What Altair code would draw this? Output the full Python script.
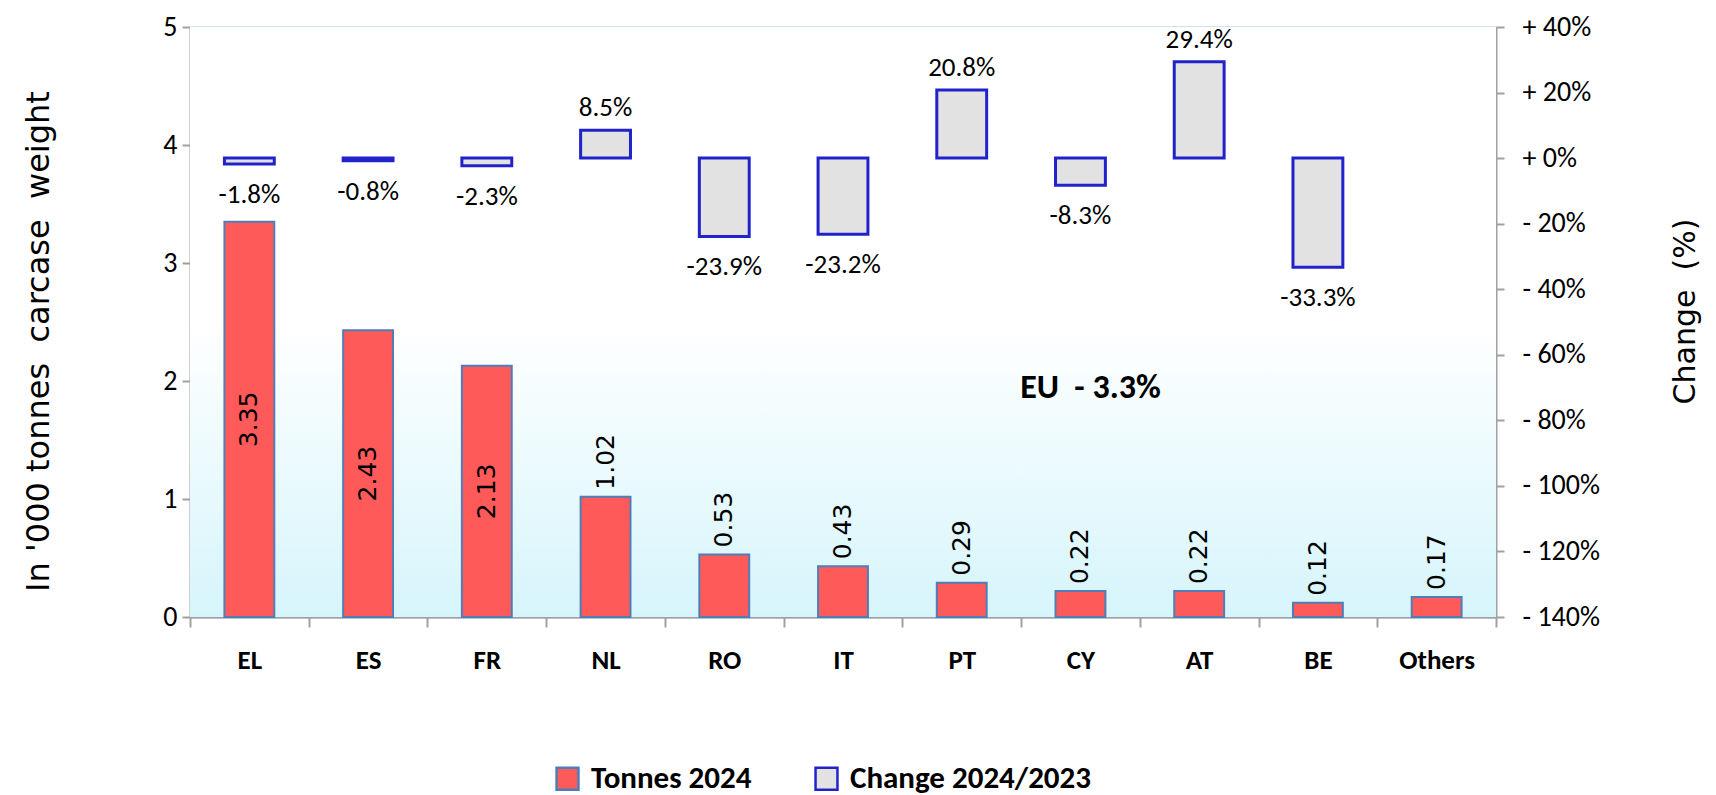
import altair as alt
import pandas as pd

countries = ["EL", "ES", "FR", "NL", "RO", "IT", "PT", "CY", "AT", "BE", "Others"]
tonnes = [3.35, 2.43, 2.13, 1.02, 0.53, 0.43, 0.29, 0.22, 0.22, 0.12, 0.17]
change = [-1.8, -0.8, -2.3, 8.5, -23.9, -23.2, 20.8, -8.3, 29.4, -33.3, None]
series = ["Tonnes 2024", "Change 2024/2023"]
eu_label = ["EU\u00a0 - 3.3%"]
left_ticks = [0, 1, 2, 3, 4, 5]
right_ticks = [-140, -120, -100, -80, -60, -40, -20, 0, 20, 40]

NARROW = "Carlito, DejaVu Sans Condensed, Lato"
VERD = "DejaVu Sans, Verdana"

df = pd.DataFrame({"country": countries, "tonnes": tonnes, "change": change})
df["tonnes_label"] = [f"{v:.2f}" for v in tonnes]
df["change_label"] = [f"{v:.1f}%" if v is not None else "" for v in change]
df["s_t"] = series[0]
df["s_c"] = series[1]

legend = alt.Legend(
    title=None, orient="none", legendX=362, legendY=736, direction="horizontal",
    labelFont=NARROW, labelFontSize=31, labelFontWeight="bold", labelColor="black",
    symbolType="square", symbolSize=480, symbolStrokeWidth=2.5, labelOffset=8,
    columnPadding=58, labelLimit=500,
)
col_scale = alt.Scale(domain=series, range=["#ff5a5a", "#e2e2e2"])
str_scale = alt.Scale(domain=series, range=["#4f7db8", "#2222cc"])

x_enc = alt.X(
    "country:N", sort=countries,
    scale=alt.Scale(paddingInner=0, paddingOuter=0),
    axis=alt.Axis(
        title=None, labelAngle=0, tickBand="extent", tickSize=10, labelPadding=20,
        labelFont=NARROW, labelFontSize=27, labelFontWeight="bold", labelColor="black",
        domainColor="#a0a0a0", domainWidth=2, tickColor="#a0a0a0", tickWidth=2,
    ),
)

left_axis = alt.Axis(
    title="In '000 tonnes\u00a0 carcase\u00a0 weight", values=left_ticks, grid=False,
    tickSize=8, tickColor="#a0a0a0", tickWidth=2, domainColor="#a0a0a0", domainWidth=2,
    labelFont=NARROW, labelFontSize=28, labelColor="black", labelPadding=5, labelFlush=False,
    titleFont=VERD, titleFontSize=32, titleFontWeight="normal", titleColor="black",
    titleX=-152, titleY=314, titleAngle=270, titleAlign="center", titleBaseline="middle",
)
right_axis = alt.Axis(
    orient="right", title="Change\u00a0 (%)", values=right_ticks, grid=True,
    gridColor="#3d89cc", gridWidth=1.5,
    tickSize=8, tickColor="#a0a0a0", tickWidth=2, domainColor="#a0a0a0", domainWidth=2,
    labelFont=NARROW, labelFontSize=28, labelColor="black", labelPadding=18, labelFlush=False,
    labelExpr="datum.value >= 0 ? '+ ' + datum.value + '%' : '- ' + abs(datum.value) + '%'",
    titleFont=VERD, titleFontSize=30, titleFontWeight="normal", titleColor="black",
    titleX=189, titleY=284, titleAngle=270, titleAlign="center", titleBaseline="middle",
)
left_scale = alt.Scale(domain=[0, 5], nice=False)
right_scale = alt.Scale(domain=[-140, 40], nice=False)

base = alt.Chart(df)

bg_grad = alt.Gradient(
    gradient="linear", x1=0, y1=0, x2=0, y2=1,
    stops=[
        alt.GradientStop(offset=0, color="#ffffff"),
        alt.GradientStop(offset=0.5, color="#ffffff"),
        alt.GradientStop(offset=1, color="#d6f5fb"),
    ],
)
background = alt.Chart(pd.DataFrame({"k": [0]})).mark_rect(color=bg_grad).encode(
    x=alt.value(0), x2=alt.value("width"), y=alt.value(0), y2=alt.value("height"),
)

bars_t = base.mark_bar(width={"band": 0.42}, strokeWidth=2).encode(
    x=x_enc,
    y=alt.Y("tonnes:Q", scale=left_scale, axis=left_axis),
    color=alt.Color("s_t:N", scale=col_scale, legend=legend),
    stroke=alt.Stroke("s_t:N", scale=str_scale, legend=legend),
)
lab_in = base.transform_filter("datum.tonnes > 2").transform_calculate(
    mid="datum.tonnes / 2"
).mark_text(angle=270, align="center", baseline="middle", font=VERD, fontSize=25, color="black").encode(
    x=x_enc,
    y=alt.Y("mid:Q", scale=left_scale, axis=left_axis),
    text="tonnes_label:N",
)
lab_out = base.transform_filter("datum.tonnes <= 2").mark_text(
    angle=270, align="left", baseline="middle", dx=7, font=VERD, fontSize=25, color="black"
).encode(
    x=x_enc,
    y=alt.Y("tonnes:Q", scale=left_scale, axis=left_axis),
    text="tonnes_label:N",
)
left = alt.layer(bars_t, lab_in, lab_out)

cbase = base.transform_filter("isValid(datum.change)")
bars_c = cbase.mark_bar(width={"band": 0.42}, strokeWidth=3).encode(
    x=x_enc,
    y=alt.Y("change:Q", scale=right_scale, axis=right_axis),
    color=alt.Color("s_c:N", scale=col_scale, legend=legend),
    stroke=alt.Stroke("s_c:N", scale=str_scale, legend=legend),
)
lab_pos = cbase.transform_filter("datum.change >= 0").mark_text(
    baseline="alphabetic", dy=-14, font=NARROW, fontSize=27, color="black"
).encode(
    x=x_enc,
    y=alt.Y("change:Q", scale=right_scale, axis=right_axis),
    text="change_label:N",
)
lab_neg = cbase.transform_filter("datum.change < 0").mark_text(
    baseline="alphabetic", dy=39, font=NARROW, fontSize=27, color="black"
).encode(
    x=x_enc,
    y=alt.Y("change:Q", scale=right_scale, axis=right_axis),
    text="change_label:N",
)
eu = alt.Chart(pd.DataFrame({"t": eu_label})).mark_text(
    font=NARROW, fontSize=34, fontWeight="bold", color="black", dx=10, baseline="middle"
).encode(
    x=alt.datum("CY", type="nominal"),
    y=alt.datum(-70, type="quantitative", scale=right_scale, axis=right_axis),
    text="t:N",
)
right = alt.layer(bars_c, lab_pos, lab_neg, eu)

chart = alt.layer(background, left, right).resolve_scale(y="independent").properties(
    width=1306, height=590,
    autosize=alt.AutoSizeParams(type="none"),
    padding={"left": 182, "top": 19, "right": 212, "bottom": 178},
    background="white",
).configure_view(stroke=None)

chart.save("out.html", embed_options={"renderer": "svg", "actions": False})
